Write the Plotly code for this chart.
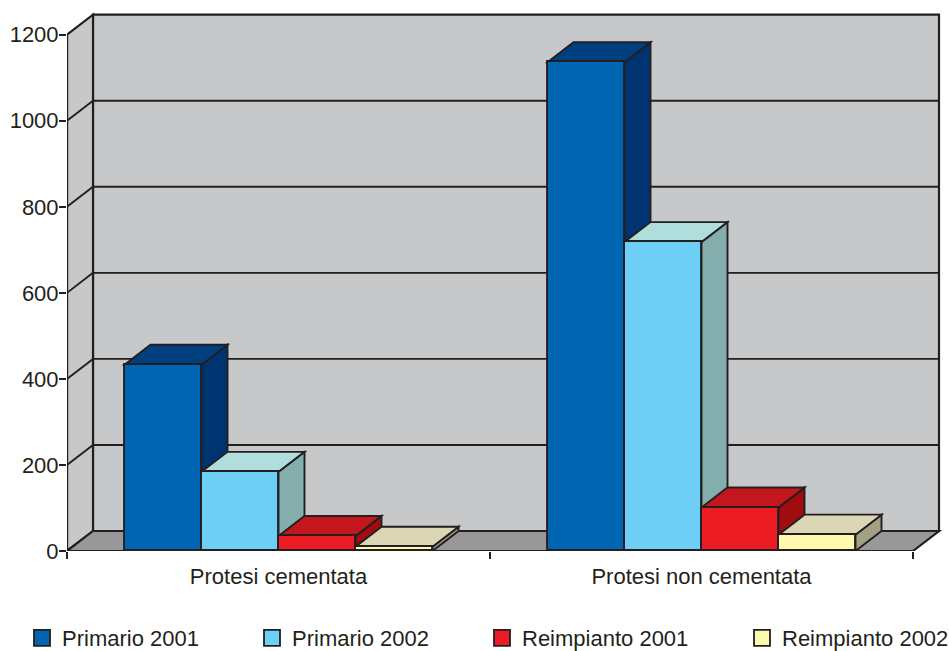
import plotly.graph_objects as go

# --- data ---
categories = ["Protesi cementata", "Protesi non cementata"]
series_names = ["Primario 2001", "Primario 2002", "Reimpianto 2001", "Reimpianto 2002"]
primario_2001 = [433, 1136]
primario_2002 = [184, 718]
reimpianto_2001 = [35, 101]
reimpianto_2002 = [10, 38]
y_ticks = [0, 200, 400, 600, 800, 1000, 1200]

# --- styles ---
front_colors = ["#0066b3", "#6dcff6", "#ed1c24", "#fff9ae"]
side_colors = ["#003471", "#84aeae", "#a00c10", "#a3a084"]
top_colors = ["#004080", "#b0dedc", "#c4161c", "#dbd6b5"]
INK = "#231f20"
WALL = "#c7c8ca"
FLOOR = "#98989a"
FONT = "Liberation Sans"

# --- pixel scale of the plot ---
W, H = 949, 651
ML, MR, MT, MB = 67, 4, 5, 100
PX_PER_CAT = 423.0
PX_PER_VAL = 516.3 / 1200
DX = 26 / PX_PER_CAT      # depth offset in category units
DY = 20 / PX_PER_VAL      # depth offset in value units
BAR_W = 77 / PX_PER_CAT
x_max = (W - ML - MR) / PX_PER_CAT
y_max = (H - MT - MB) / PX_PER_VAL
n_cat = len(categories)
top_val = y_ticks[-1]
LW = 1.9


def poly(points, fill, lw=LW, color=INK):
    path = "M " + " L ".join(f"{x},{y}" for x, y in points) + " Z"
    return dict(type="path", path=path, xref="x", yref="y", layer="below",
                fillcolor=fill, line=dict(color=color, width=lw))


def seg(x0, y0, x1, y1, lw=LW):
    return dict(type="line", x0=x0, y0=y0, x1=x1, y1=y1, xref="x", yref="y",
                layer="below", line=dict(color=INK, width=lw))


shapes = [
    poly([(DX, DY), (DX, top_val + DY), (n_cat + DX, top_val + DY), (n_cat + DX, DY)], WALL, 2.2),
    poly([(0, 0), (DX, DY), (DX, top_val + DY), (0, top_val)], WALL, 2.2),
    poly([(0, 0), (DX, DY), (n_cat + DX, DY), (n_cat, 0)], FLOOR, 2.2),
]
for t in y_ticks[1:-1]:
    shapes.append(seg(0, t, DX, t + DY))
    shapes.append(seg(DX, t + DY, n_cat + DX, t + DY))

all_series = [primario_2001, primario_2002, reimpianto_2001, reimpianto_2002]
fig = go.Figure()

for c in range(n_cat):
    for i, values in enumerate(all_series):
        v = values[c]
        left = c + 0.5 + (i - 2) * BAR_W
        right = left + BAR_W
        shapes.append(poly([(right, 0), (right + DX, DY), (right + DX, v + DY), (right, v)], side_colors[i]))
        shapes.append(poly([(left, v), (left + DX, v + DY), (right + DX, v + DY), (right, v)], top_colors[i]))

for i, values in enumerate(all_series):
    fig.add_trace(go.Bar(
        x=[c + 0.5 + (i - 1.5) * BAR_W for c in range(n_cat)],
        y=values, width=BAR_W, name=series_names[i], showlegend=False,
        marker=dict(color=front_colors[i], line=dict(color=INK, width=LW)),
    ))

# axis lines along the front edge
fig.add_trace(go.Scatter(x=[0, 0], y=[0, top_val], mode="lines", cliponaxis=False,
                         line=dict(color=INK, width=2.2), showlegend=False, hoverinfo="skip"))
fig.add_trace(go.Scatter(x=[0, n_cat], y=[0, 0], mode="lines", cliponaxis=False,
                         line=dict(color=INK, width=2.2), showlegend=False, hoverinfo="skip"))

# legend entries, each in its own legend so the spacing can follow the reference
legend_left_px = [22, 252, 482, 742]
legend_ids = ["legend", "legend2", "legend3", "legend4"]
legends = {}
for i, name in enumerate(series_names):
    fig.add_trace(go.Scatter(
        x=[None], y=[None], mode="markers", name=name, legend=legend_ids[i], showlegend=True,
        marker=dict(symbol="square", size=16, color=front_colors[i], line=dict(color=INK, width=1.8)),
    ))
    legends[legend_ids[i]] = dict(
        x=(legend_left_px[i] - ML) / (W - ML - MR),
        y=(H - MB - 638) / (H - MT - MB),
        xanchor="left", yanchor="middle", bgcolor="rgba(0,0,0,0)",
        font=dict(family=FONT, size=22, color=INK), itemwidth=30,
    )

fig.update_layout(
    width=W, height=H, barmode="overlay", bargap=0,
    margin=dict(l=ML, r=MR, t=MT, b=MB, autoexpand=False),
    paper_bgcolor="white", plot_bgcolor="white",
    shapes=shapes,
    font=dict(family=FONT, size=22, color=INK),
    xaxis=dict(
        range=[0, x_max], tickmode="array", tickvals=[c + 0.5 for c in range(n_cat)],
        ticktext=categories, ticks="", showgrid=False, zeroline=False, showline=False,
        ticklabelstandoff=10,
        minor=dict(tickmode="array", tickvals=list(range(n_cat + 1)), ticks="outside",
                   ticklen=7, tickwidth=1.5, tickcolor=INK, showgrid=False),
        tickfont=dict(family=FONT, size=22, color=INK),
    ),
    yaxis=dict(
        range=[0, y_max], tickmode="array", tickvals=y_ticks, ticks="outside",
        ticklen=7, tickwidth=1.5, tickcolor=INK, showgrid=False, zeroline=False, showline=False,
        ticklabelstandoff=-4,
        tickfont=dict(family=FONT, size=22, color=INK),
    ),
    **legends,
)

fig.write_html("out.html", config={"displayModeBar": False},
               post_script="document.body.style.margin='0';document.documentElement.style.overflow='hidden';")
